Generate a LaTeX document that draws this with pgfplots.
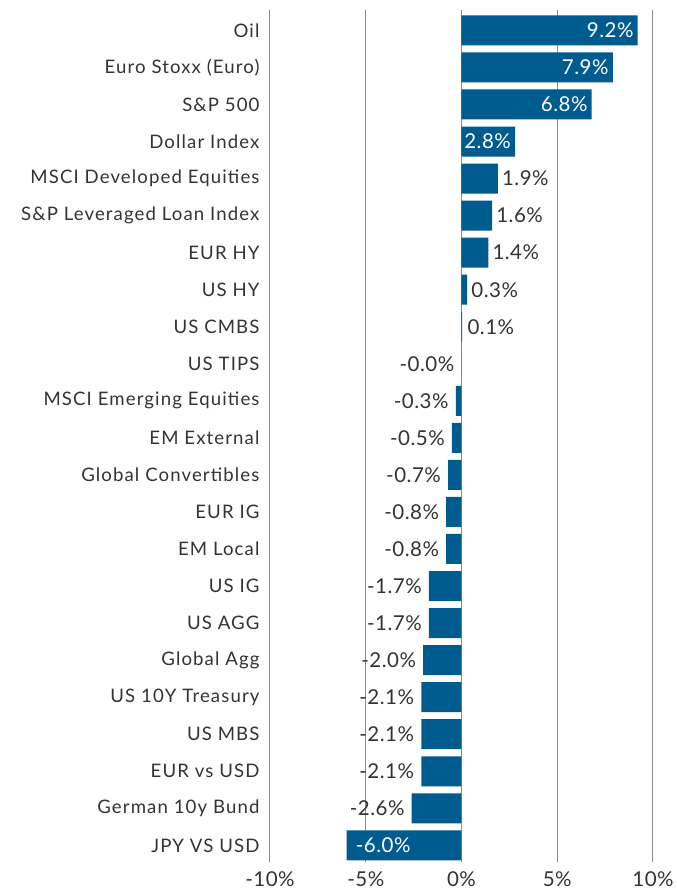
\documentclass[border=0pt]{standalone}
\usepackage{pgfplots}
\usepackage{pgfplotstable}
\pgfplotsset{compat=1.18}
\usepackage{fontspec}
\setmainfont{Lato}[LetterSpace=2.5]
\newfontfamily\catfont{Lato}[LetterSpace=6]
\definecolor{barblue}{HTML}{005B8F}
\definecolor{txt}{HTML}{333333}
\definecolor{gridc}{HTML}{8C8C8C}

\pgfplotstableread{
i v
0 9.2
1 7.9
2 6.8
3 2.8
4 1.9
5 1.6
6 1.4
7 0.3
8 0.03
9 -0.01
10 -0.3
11 -0.5
12 -0.7
13 -0.8
14 -0.8
15 -1.7
16 -1.7
17 -2.0
18 -2.1
19 -2.1
20 -2.1
21 -2.6
22 -6.0
}\bars

\pgfplotstableread{
i v lab
4 1.9 1.9
5 1.6 1.6
6 1.4 1.4
7 0.3 0.3
8 0.1 0.1
}\posout

\pgfplotstableread{
i v lab
9 0.0 -0.0
10 -0.3 -0.3
11 -0.5 -0.5
12 -0.7 -0.7
13 -0.8 -0.8
14 -0.8 -0.8
15 -1.7 -1.7
16 -1.7 -1.7
17 -2.0 -2.0
18 -2.1 -2.1
19 -2.1 -2.1
20 -2.1 -2.1
21 -2.6 -2.6
}\negout

\pgfplotstableread{
i v lab
0 9.2 9.2
1 7.9 7.9
2 6.8 6.8
3 2.8 2.8
}\posin

\pgfplotstableread{
i v lab
22 -6.0 -6.0
}\negin

\begin{document}
\begin{tikzpicture}
\begin{axis}[
  name=ax,
  scale only axis,
  width=383pt, height=852pt,
  xmin=-10, xmax=10,
  ymin=-0.55, ymax=22.45,
  y dir=reverse,
  axis line style={draw=none},
  tick style={draw=none},
  major tick length=0pt,
  xtick={-10,-5,0,5,10},
  xticklabels={-10\%,-5\%,0\%,5\%,10\%},
  xmajorgrids,
  grid style={gridc, line width=1pt},
  ytick={0,...,22},
  yticklabels={Oil,Euro Stoxx (Euro),S\&P 500,Dollar Index,MSCI Developed Equities,S\&P Leveraged Loan Index,EUR HY,US HY,US CMBS,US TIPS,MSCI Emerging Equities,EM External,Global Convertibles,EUR IG,EM Local,US IG,US AGG,Global Agg,US 10Y Treasury,US MBS,EUR vs USD,German 10y Bund,JPY VS USD},
  yticklabel style={font=\catfont\fontsize{18.6}{20}\selectfont, text=txt, anchor=east, xshift=-7pt},
  xticklabel style={font=\fontsize{20.5}{22}\selectfont, text=txt, anchor=north, yshift=-6pt},
  /pgf/number format/assume math mode=true,
  clip=false,
]
\addplot[xbar, bar width=30pt, bar shift=0pt, fill=barblue, draw=none] table[x=v, y=i] {\bars};

\addplot[draw=none, nodes near coords={\pgfplotspointmeta\%}, point meta=explicit symbolic,
  nodes near coords style={anchor=west, text=txt, font=\fontsize{20.5}{22}\selectfont, inner sep=0pt, xshift=4pt}]
  table[x=v, y=i, meta=lab] {\posout};
\addplot[draw=none, nodes near coords={\pgfplotspointmeta\%}, point meta=explicit symbolic,
  nodes near coords style={anchor=east, text=txt, font=\fontsize{20.5}{22}\selectfont, inner sep=0pt, xshift=-7pt}]
  table[x=v, y=i, meta=lab] {\negout};
\addplot[draw=none, nodes near coords={\pgfplotspointmeta\%}, point meta=explicit symbolic,
  nodes near coords style={anchor=east, text=white, font=\fontsize{20.5}{22}\selectfont, inner sep=0pt, xshift=-4pt}]
  table[x=v, y=i, meta=lab] {\posin};
\addplot[draw=none, nodes near coords={\pgfplotspointmeta\%}, point meta=explicit symbolic,
  nodes near coords style={anchor=west, text=white, font=\fontsize{20.5}{22}\selectfont, inner sep=0pt, xshift=9pt}]
  table[x=v, y=i, meta=lab] {\negin};
\end{axis}
\path ([xshift=-270pt,yshift=10pt]ax.north west) rectangle ([xshift=24pt,yshift=-33pt]ax.south east);
\end{tikzpicture}
\end{document}
